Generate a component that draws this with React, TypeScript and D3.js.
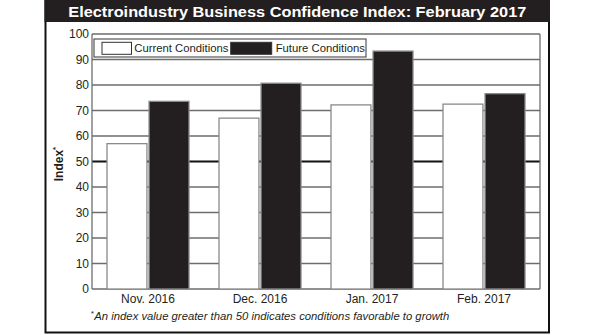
import React from "react";
import * as d3 from "d3";

const categories = ["Nov. 2016", "Dec. 2016", "Jan. 2017", "Feb. 2017"];
const seriesNames = ["Current Conditions", "Future Conditions"];
const currentValues = [57.0, 67.0, 72.2, 72.5];
const futureValues = [73.6, 80.7, 93.3, 76.6];
const yTicks = [0, 10, 20, 30, 40, 50, 60, 70, 80, 90, 100];
const titleText = "Electroindustry Business Confidence Index: February 2017";
const footnoteText = "An index value greater than 50 indicates conditions favorable to growth";

const W = 595;
const H = 335;
const plot = { left: 92, right: 540, top: 34, bottom: 289 };
const font = "'Liberation Sans', Arial, sans-serif";

export default function App() {
  const x = d3.scaleBand<string>().domain(categories).range([plot.left, plot.right]).padding(0);
  const x1 = d3.scaleBand<string>().domain(seriesNames).range([-41, 41]).paddingInner(0.05);
  const y = d3.scaleLinear().domain([0, 100]).range([plot.bottom, plot.top]);
  const seriesValues = [currentValues, futureValues];
  const fills = ["#ffffff", "#231f20"];

  return (
    <svg width={W} height={H} style={{ position: "absolute", left: 0, top: 0, background: "#fff" }}>
      {/* outer frame */}
      <rect x={45.5} y={0} width={503.5} height={332.5} fill="#fff" stroke="#111" strokeWidth={2} />
      <rect x={44.5} y={0} width={505.5} height={22} fill="#231f20" />
      <text x={68.3} y={17} fill="#fff" fontFamily={font} fontWeight="bold" fontSize={14.5} textLength={458} lengthAdjust="spacingAndGlyphs">
        {titleText}
      </text>

      {/* gridlines */}
      {yTicks.map((t) => (
        <line key={"g" + t} x1={plot.left} x2={plot.right} y1={y(t)} y2={y(t)}
          stroke={t === 50 ? "#111" : "#6d6d6d"} strokeWidth={t === 50 ? 2 : 1.3} />
      ))}
      <line x1={plot.left} x2={plot.left} y1={plot.top} y2={plot.bottom} stroke="#6d6d6d" strokeWidth={1.3} />
      <line x1={plot.right} x2={plot.right} y1={plot.top} y2={plot.bottom} stroke="#6d6d6d" strokeWidth={1.3} />

      {/* y tick labels */}
      {yTicks.map((t) => (
        <text key={"t" + t} x={89} y={y(t)} dy="0.36em" textAnchor="end" fontFamily={font} fontSize={12} fill="#231f20">
          {t}
        </text>
      ))}

      {/* bars */}
      {categories.map((c, i) => (
        <g key={c}>
          {seriesNames.map((s, k) => {
            const cx = (x(c) as number) + x.bandwidth() / 2;
            const bx = cx + (x1(s) as number);
            const v = seriesValues[k][i];
            return (
              <rect key={s} x={bx} y={y(v)} width={x1.bandwidth()} height={y(0) - y(v)}
                fill={fills[k]} stroke="#8a8a8a" strokeWidth={1.3} />
            );
          })}
          <text x={(x(c) as number) + x.bandwidth() / 2} y={303} textAnchor="middle" fontFamily={font} fontSize={12} fill="#231f20">
            {c}
          </text>
        </g>
      ))}

      {/* legend */}
      <rect x={94} y={39} width={272} height={18} fill="#fff" stroke="#555" strokeWidth={1.2} />
      <rect x={102} y={42.3} width={29.5} height={12} fill="#fff" stroke="#333" strokeWidth={1} />
      <text x={134.3} y={51.7} fontFamily={font} fontSize={11.3} fill="#231f20">{seriesNames[0]}</text>
      <rect x={230.7} y={42.3} width={41} height={12} fill="#231f20" stroke="#333" strokeWidth={1} />
      <text x={275.7} y={51.7} fontFamily={font} fontSize={11.3} fill="#231f20">{seriesNames[1]}</text>

      {/* y axis title */}
      <text transform="translate(63,164) rotate(-90)" textAnchor="middle" fontFamily={font} fontWeight="bold" fontSize={12} fill="#231f20">
        Index<tspan fontSize={8} dy={-5}>*</tspan>
      </text>

      {/* footnote */}
      <text x={90.5} y={316} fontFamily={font} fontStyle="italic" fontSize={8} fill="#231f20">*</text>
      <text x={94.3} y={320} fontFamily={font} fontStyle="italic" fontSize={11.5} fill="#231f20" textLength={355} lengthAdjust="spacingAndGlyphs">
        {footnoteText}
      </text>
    </svg>
  );
}
